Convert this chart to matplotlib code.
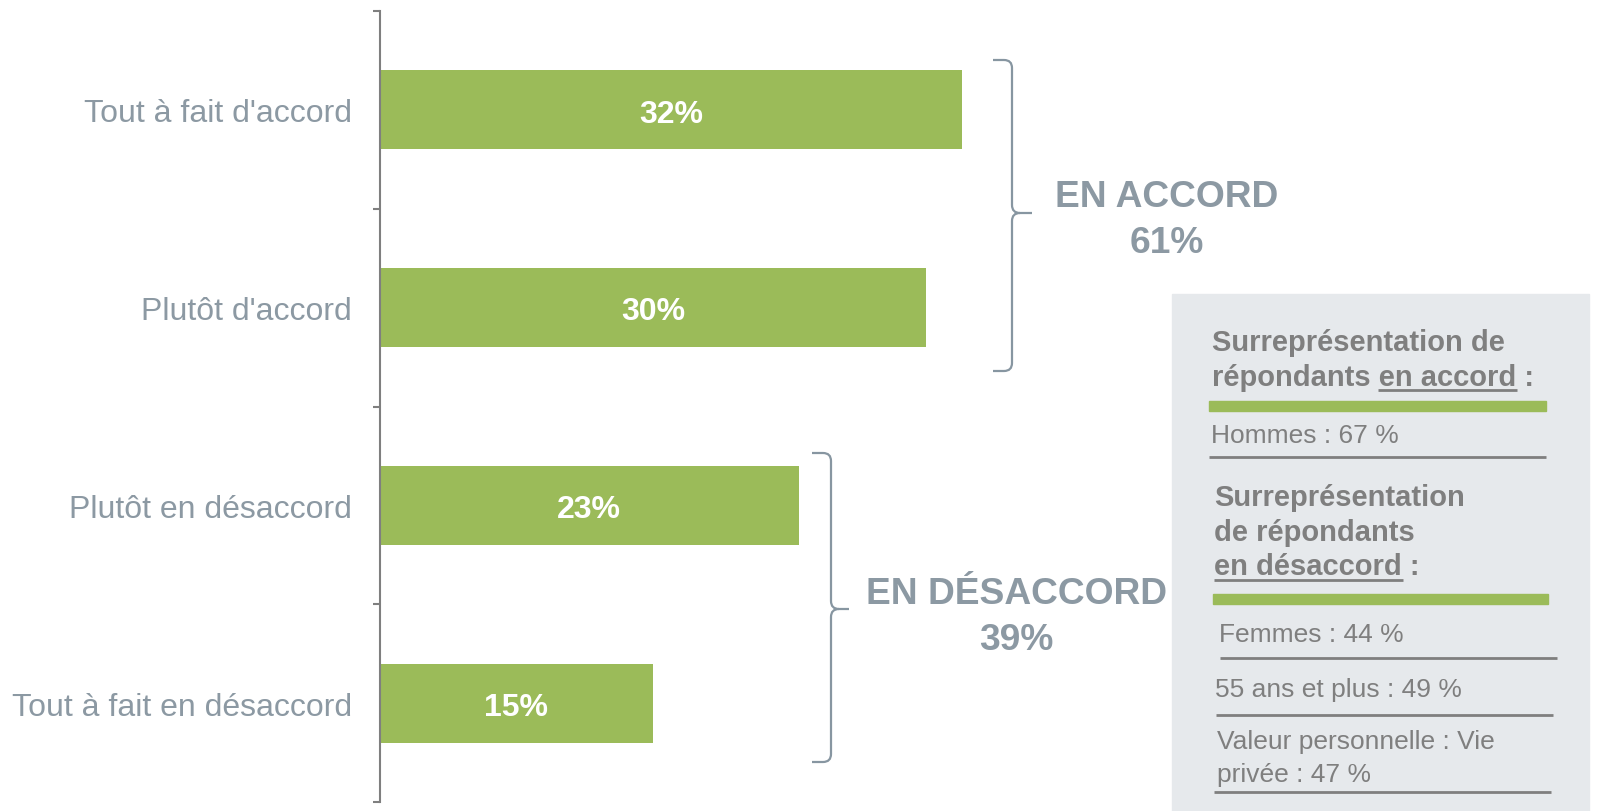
import matplotlib.pyplot as plt
from matplotlib.path import Path
from matplotlib.patches import PathPatch, Rectangle
from matplotlib.lines import Line2D

# data
categories = ["Tout à fait d'accord", "Plutôt d'accord", "Plutôt en désaccord", "Tout à fait en désaccord"]
values = [32, 30, 23, 15]
group_labels = ["EN ACCORD", "EN DÉSACCORD"]
group_totals = [61, 39]
accord_items = ["Hommes : 67 %"]
desaccord_items = ["Femmes : 44 %", "55 ans et plus : 49 %", "Valeur personnelle : Vie\nprivée : 47 %"]

W, H = 1597, 812
GREEN = '#9bbb59'
LABEL = '#8c99a3'
BRACE = '#8796a1'
DARK = '#7f7f7f'
BOX = '#e6e9ec'

plt.rcParams['font.family'] = ['Liberation Sans', 'DejaVu Sans']

fig = plt.figure(figsize=(W / 100, H / 100), dpi=100)


def fx(x):
    return x / W


def fy(y):
    return 1 - y / H


ax = fig.add_axes([fx(380), 9 / H, (1150 - 380) / W, (803 - 12) / H])
ypos = list(range(len(categories)))
ax.barh(ypos, values, height=0.4, color=GREEN)
ax.set_ylim(3.5, -0.5)
ax.set_xlim(0, 770 / 18.2)

for i, v in enumerate(values):
    ax.annotate(f"{v}%", (v / 2, i), xytext=(0, -8.5), textcoords='offset points',
                ha='center', va='baseline', color='white', fontsize=23, fontweight='bold')

ax.set_yticks(ypos)
ax.set_yticklabels(categories, fontsize=23, color=LABEL)
ax.set_yticks([-0.5, 0.5, 1.5, 2.5, 3.5], minor=True)
ax.tick_params(axis='y', which='major', length=0, pad=20)
ax.tick_params(axis='y', which='minor', length=5, width=1.5, color=DARK, direction='out')
ax.set_xticks([])
for s in ['top', 'right', 'bottom']:
    ax.spines[s].set_visible(False)
ax.spines['left'].set_color(DARK)
ax.spines['left'].set_linewidth(1.5)


def brace(x_end, x_v, x_tip, top, tip, bottom, r=8):
    pts = [(x_end, top), (x_v - r, top), (x_v, top), (x_v, top + r),
           (x_v, tip - r), (x_v, tip), (x_v + r, tip), (x_tip, tip),
           (x_v + r, tip), (x_v, tip), (x_v, tip + r),
           (x_v, bottom - r), (x_v, bottom), (x_v - r, bottom), (x_end, bottom)]
    codes = [Path.MOVETO, Path.LINETO, Path.CURVE3, Path.CURVE3,
             Path.LINETO, Path.CURVE3, Path.CURVE3, Path.LINETO,
             Path.MOVETO, Path.CURVE3, Path.CURVE3,
             Path.LINETO, Path.CURVE3, Path.CURVE3, Path.LINETO]
    p = Path([(fx(a), fy(b)) for a, b in pts], codes)
    fig.patches.append(PathPatch(p, fill=False, edgecolor=BRACE, lw=1.6,
                                 transform=fig.transFigure))


brace(993, 1012, 1032, 61, 214, 372)
brace(812, 831, 849, 454, 610, 763)

fig.text(fx(1167), fy(207), group_labels[0], ha='center', va='baseline',
         fontsize=26.7, fontweight='bold', color=LABEL)
fig.text(fx(1167), fy(253), f"{group_totals[0]}%", ha='center', va='baseline',
         fontsize=26.7, fontweight='bold', color=LABEL)
fig.text(fx(1016), fy(604), group_labels[1], ha='center', va='baseline',
         fontsize=26.7, fontweight='bold', color=LABEL)
fig.text(fx(1016), fy(650), f"{group_totals[1]}%", ha='center', va='baseline',
         fontsize=26.7, fontweight='bold', color=LABEL)

# side panel
fig.patches.append(Rectangle((fx(1172), fy(812)), (1589 - 1172) / W, (812 - 295) / H,
                             transform=fig.transFigure, color=BOX, zorder=0))


def hline(x0, x1, y, color=DARK, lw=2):
    fig.add_artist(Line2D([fx(x0), fx(x1)], [fy(y), fy(y)], color=color, lw=lw,
                          transform=fig.transFigure, solid_capstyle='butt'))


def head(x, y, s):
    fig.text(fx(x), fy(y), s, ha='left', va='baseline', fontsize=21,
             fontweight='bold', color=DARK)


def body(x, y, s):
    fig.text(fx(x), fy(y), s, ha='left', va='baseline', fontsize=19,
             color=DARK)


head(1212, 351, "Surreprésentation de")
head(1212, 386, "répondants en accord :")
hline(1378, 1517, 391, lw=2)
fig.patches.append(Rectangle((fx(1209), fy(412)), (1546 - 1209) / W, 10 / H,
                             transform=fig.transFigure, color=GREEN))
body(1211, 443, accord_items[0])
hline(1209, 1546, 458)

head(1214, 506, "Surreprésentation")
head(1214, 541, "de répondants")
head(1214, 575, "en désaccord :")
hline(1214, 1403, 581, lw=2)
fig.patches.append(Rectangle((fx(1213), fy(605)), (1548 - 1213) / W, 10 / H,
                             transform=fig.transFigure, color=GREEN))
body(1219, 642, desaccord_items[0])
hline(1220, 1557, 659)
body(1215, 697, desaccord_items[1])
hline(1216, 1553, 716)
body(1217, 749, desaccord_items[2].split("\n")[0])
body(1217, 782, desaccord_items[2].split("\n")[1])
hline(1214, 1551, 793)

fig.savefig("out.png", dpi=100)
